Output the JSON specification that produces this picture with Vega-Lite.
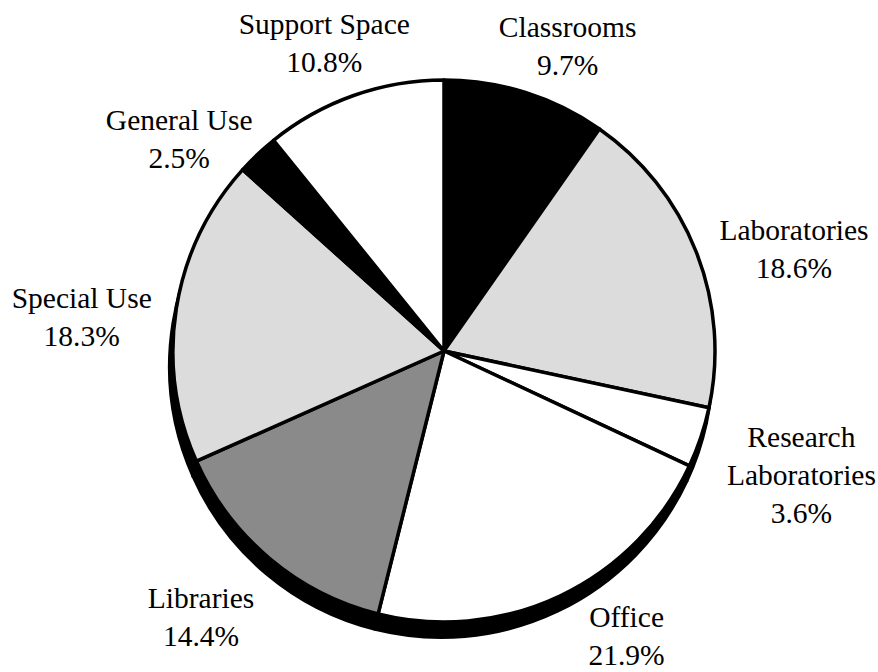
{
  "$schema": "https://vega.github.io/schema/vega-lite/v6.json",
  "autosize": "none",
  "width": 868,
  "height": 642,
  "padding": {"top": 30, "bottom": 0, "left": 10, "right": 0},
  "background": "white",
  "view": {"stroke": null},
  "config": {
    "text": {"font": "Liberation Serif", "fontSize": 29.5, "lineHeight": 38, "align": "center", "baseline": "middle", "color": "black"}
  },
  "data": {
    "values": [
      {"order": 1, "category": "Classrooms", "pct": 9.7, "label": ["Classrooms", "9.7%"]},
      {"order": 2, "category": "Laboratories", "pct": 18.6, "label": ["Laboratories", "18.6%"]},
      {"order": 3, "category": "Research Laboratories", "pct": 3.6, "label": ["Research", "Laboratories", "3.6%"]},
      {"order": 4, "category": "Office", "pct": 21.9, "label": ["Office", "21.9%"]},
      {"order": 5, "category": "Libraries", "pct": 14.4, "label": ["Libraries", "14.4%"]},
      {"order": 6, "category": "Special Use", "pct": 18.3, "label": ["Special Use", "18.3%"]},
      {"order": 7, "category": "General Use", "pct": 2.5, "label": ["General Use", "2.5%"]},
      {"order": 8, "category": "Support Space", "pct": 10.8, "label": ["Support Space", "10.8%"]}
    ]
  },
  "encoding": {
    "theta": {"field": "pct", "type": "quantitative", "stack": true},
    "order": {"field": "order", "type": "quantitative"}
  },
  "layer": [
    {
      "mark": {"type": "arc", "outerRadius": 272, "fill": "black", "yOffset": 15, "xOffset": -3, "stroke": "black", "strokeWidth": 2}
    },
    {
      "mark": {"type": "arc", "outerRadius": 271, "stroke": "black", "strokeWidth": 3.5, "strokeJoin": "round"},
      "encoding": {
        "fill": {
          "field": "category",
          "type": "nominal",
          "scale": {
            "domain": ["Classrooms", "Laboratories", "Research Laboratories", "Office", "Libraries", "Special Use", "General Use", "Support Space"],
            "range": ["#000000", "#dcdcdc", "#ffffff", "#ffffff", "#8a8a8a", "#dcdcdc", "#000000", "#ffffff"]
          },
          "legend": null
        }
      }
    },
    {
      "mark": {"type": "text", "radius": 328, "dx": 25, "dy": -10},
      "encoding": {"text": {"condition": {"test": "datum.category === 'Classrooms'", "field": "label"}, "value": ""}}
    },
    {
      "mark": {"type": "text", "radius": 361, "dx": 14, "dy": 12},
      "encoding": {"text": {"condition": {"test": "datum.category === 'Laboratories'", "field": "label"}, "value": ""}}
    },
    {
      "mark": {"type": "text", "radius": 376, "dx": 1, "dy": -33},
      "encoding": {"text": {"condition": {"test": "datum.category === 'Research Laboratories'", "field": "label"}, "value": ""}}
    },
    {
      "mark": {"type": "text", "radius": 353, "dx": 31, "dy": -52},
      "encoding": {"text": {"condition": {"test": "datum.category === 'Office'", "field": "label"}, "value": ""}}
    },
    {
      "mark": {"type": "text", "radius": 359, "dx": -12, "dy": -27},
      "encoding": {"text": {"condition": {"test": "datum.category === 'Libraries'", "field": "label"}, "value": ""}}
    },
    {
      "mark": {"type": "text", "radius": 380, "dx": 13, "dy": 8},
      "encoding": {"text": {"condition": {"test": "datum.category === 'Special Use'", "field": "label"}, "value": ""}}
    },
    {
      "mark": {"type": "text", "radius": 337, "dx": -33, "dy": 15},
      "encoding": {"text": {"condition": {"test": "datum.category === 'General Use'", "field": "label"}, "value": ""}}
    },
    {
      "mark": {"type": "text", "radius": 335, "dx": -8, "dy": -10},
      "encoding": {"text": {"condition": {"test": "datum.category === 'Support Space'", "field": "label"}, "value": ""}}
    }
  ]
}
